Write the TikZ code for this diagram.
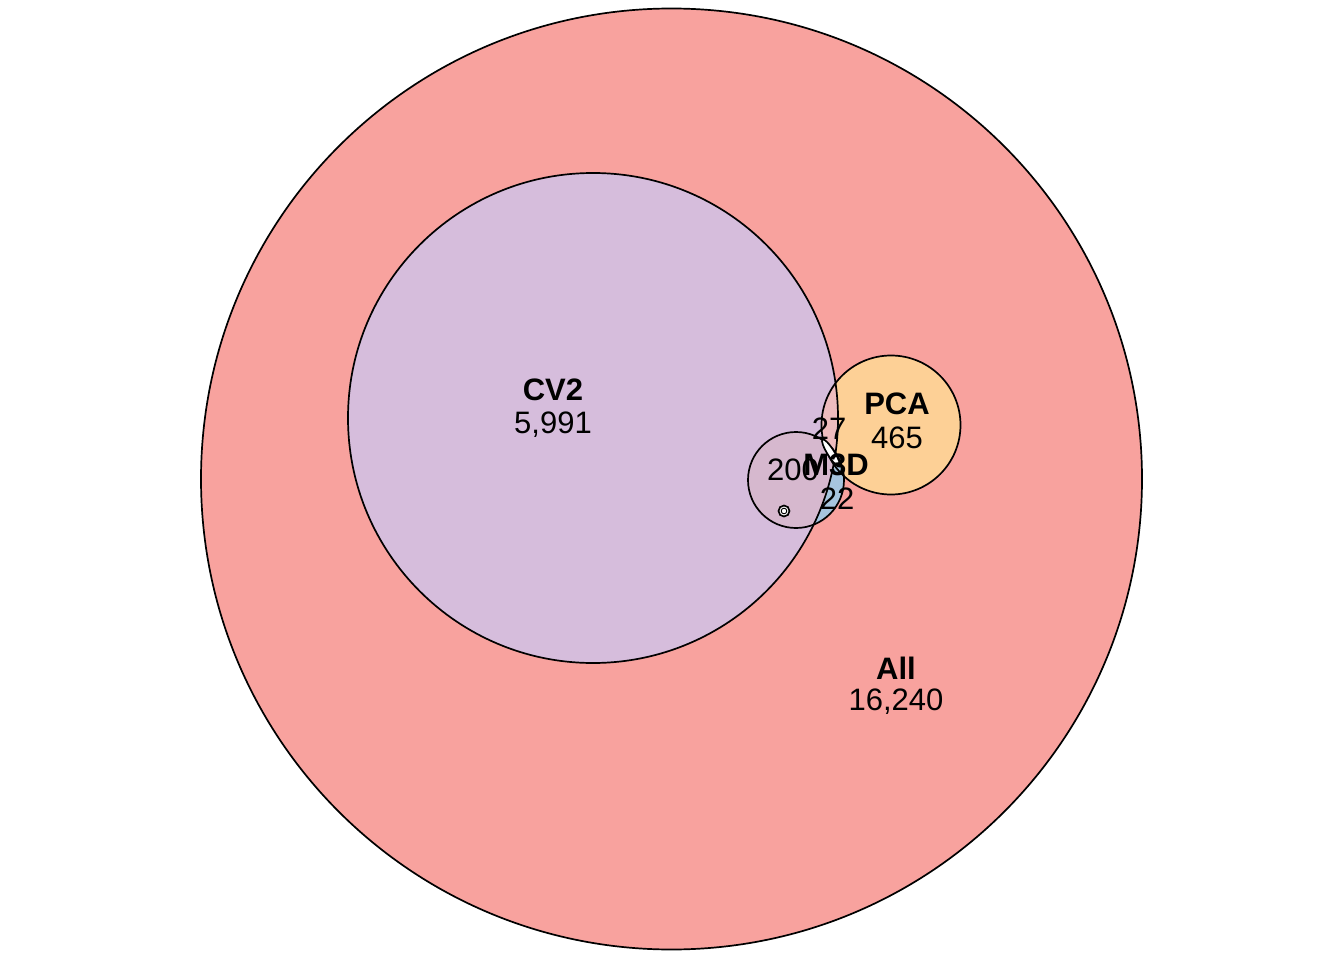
\documentclass[tikz,border=0pt]{standalone}
\usepackage{fontspec}
\setmainfont{Liberation Sans}
\definecolor{allc}{RGB}{248,162,158}
\definecolor{cvc}{RGB}{214,189,220}
\definecolor{pcac}{RGB}{253,208,150}
\definecolor{cvpca}{RGB}{238,188,190}
\definecolor{m3dc}{RGB}{166,196,222}
\definecolor{cvm3d}{RGB}{214,184,206}
\begin{document}
\begin{tikzpicture}[x=1pt,y=-1pt,
  outl/.style={draw=black,line width=1.7pt},
  setname/.style={font=\bfseries\fontsize{31}{34}\selectfont,inner sep=0pt},
  cnt/.style={font=\fontsize{31}{34}\selectfont,inner sep=0pt}]
\useasboundingbox (0,0) rectangle (1344,960);
\fill[white] (0,0) rectangle (1344,960);
% fills
\fill[allc] (671.5,479) circle [radius=470.5pt];
\fill[cvc] (593,418) circle [radius=245pt];
\fill[pcac] (891,425) circle [radius=69.5pt];
\begin{scope}
  \clip (593,418) circle [radius=245pt];
  \fill[cvpca] (891,425) circle [radius=69.5pt];
\end{scope}
\fill[m3dc] (796,480) circle [radius=48pt];
\begin{scope}
  \clip (593,418) circle [radius=245pt];
  \fill[cvm3d] (796,480) circle [radius=48pt];
\end{scope}
% outlines
\draw[outl] (671.5,479) circle [radius=470.5pt];
\draw[outl] (593,418) circle [radius=245pt];
\draw[outl] (891,425) circle [radius=69.5pt];
\draw[outl] (796,480) circle [radius=48pt];
\draw[outl,fill=white,rotate around={-58:(831,453)}] (831,453) ellipse [x radius=16pt, y radius=3.5pt];
\draw[outl,fill=white] (784,511) circle [radius=5.5pt];
\draw[black,line width=0.9pt,fill=white] (784,511) circle [radius=2.8pt];
% labels
\node[setname] (lcv) at (553,390) {CV2};
\node[cnt] (ncv) at (553,425) {5,991};
\node[setname] (lpca) at (897,404) {PCA};
\node[cnt] (npca) at (897,438) {465};
\node[setname] (lall) at (896,668) {All};
\node[cnt] (nall) at (896,702) {16,240};
\node[cnt] (n27) at (829,429) {27};
\node[cnt] (n200) at (793,470) {200};
\node[setname] (lm3d) at (836,465) {M3D};
\node[cnt] (n22) at (837,499) {22};
\end{tikzpicture}
\end{document}
